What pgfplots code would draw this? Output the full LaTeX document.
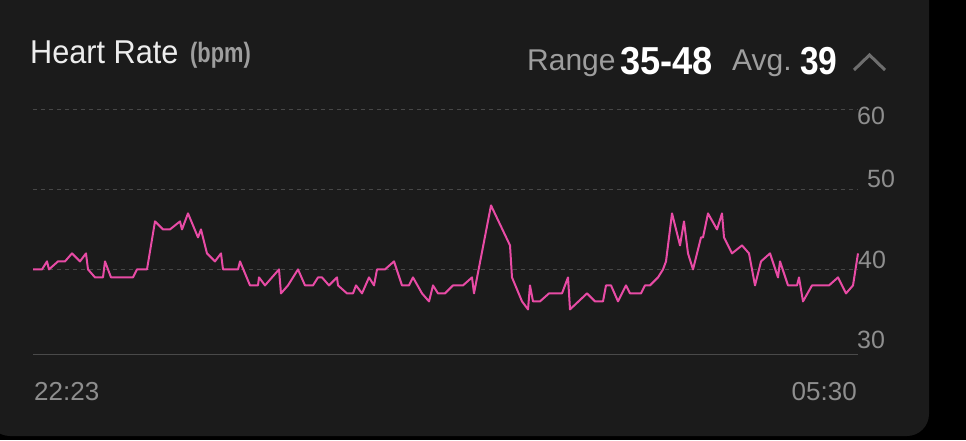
\documentclass[border=0pt]{standalone}
\usepackage{fontspec}
\setmainfont{Liberation Sans}
\usepackage{pgfplots}
\pgfplotsset{compat=1.18}

\definecolor{card}{HTML}{1B1B1B}
\definecolor{hr}{HTML}{E84BA5}
\definecolor{griddash}{HTML}{474747}
\definecolor{gridsolid}{HTML}{4A4A4A}
\definecolor{title}{HTML}{EDEDED}
\definecolor{lab}{HTML}{8E8E8E}
\definecolor{sub}{HTML}{9E9E9E}
\definecolor{chev}{HTML}{6E6E6E}

\begin{document}
\begin{tikzpicture}[x=1pt,y=1pt]
\useasboundingbox (0,0) rectangle (966,440);
\fill[black] (0,0) rectangle (966,440);
\fill[card, rounded corners=22pt] (-12,4) rectangle (929,470);

% header
\node[anchor=base west, inner sep=0, text=title] at (30,376)
  {\fontsize{33}{36}\selectfont\scalebox{0.93}[1]{Heart Rate}};
\node[anchor=base west, inner sep=0, text=sub] at (190,377)
  {\fontsize{28}{31}\selectfont\bfseries\scalebox{0.78}[1]{(bpm)}};
\node[anchor=base west, inner sep=0, text=sub] at (527,369)
  {\fontsize{30}{33}\selectfont Range};
\node[anchor=base west, inner sep=0, text=white] at (620,365)
  {\fontsize{39}{42}\selectfont\bfseries\scalebox{0.93}[1]{35-48}};
\node[anchor=base west, inner sep=0, text=sub] at (732,369)
  {\fontsize{30}{33}\selectfont Avg.};
\node[anchor=base west, inner sep=0, text=white] at (800,365)
  {\fontsize{39}{42}\selectfont\bfseries\scalebox{0.86}[1]{39}};
\draw[chev, line width=3pt] (854,370) -- (869.5,385) -- (885,370);

\begin{axis}[
  at={(33,107)}, anchor=south west,
  scale only axis, width=825pt, height=245pt,
  xmin=33, xmax=858, ymin=29.375, ymax=60,
  axis line style={draw=none},
  xtick=\empty,
  ytick={40,50,60}, yticklabels={},
  ymajorgrids,
  major grid style={draw=griddash, line width=1.2pt, dash pattern=on 4pt off 4pt},
  major tick length=0pt,
  clip=false,
]
\draw[gridsolid, line width=1.3pt] (rel axis cs:0,0) -- (rel axis cs:1,0);
\addplot[hr, line width=2pt, line join=round, mark=none] table {
x y
33 40
42 40
47 41
49 40
58 41
65 41
72 42
80 41
86 42
88 40
95 39
103 39
105 41
111 39
133 39
137 40
147 40
155 46
163 45
170 45
180 46
182 45
188 47
198 44
201 45
207 42
215 41
221 42
223 40
238 40
240 41
250 38
258 38
259 39
265 38
279 40
281 37
288 38
298 40
305 38
313 38
318 39
322 39
329 38
337 39
338 38
347 37
353 37
356 38
362 37
369 39
374 38
377 40
385 40
394 41
402 38
409 38
413 39
422 37
429 36
433 38
438 37
445 37
453 38
463 38
472 39
474 37
491 48
510 43
512 39
522 36
528 35
530 38
533 36
540 36
549 37
562 37
568 39
570 35
587 37
595 36
603 36
606 38
611 38
618 36
626 38
630 37
641 37
645 38
650 38
658 39
663 40
666 41
672 47
680 43
684 46
688 42
693 40
701 44
703 44
708 47
717 45
722 47
724 44
732 42
742 43
749 42
755 38
761 41
770 42
778 39
780 41
788 38
797 38
799 39
803 36
812 38
829 38
838 39
846 37
853 38
858 42
};
\end{axis}

% y labels
\node[anchor=base west, inner sep=0, text=lab] at (857,316)
  {\fontsize{25}{28}\selectfont 60};
\begin{scope}
\clip (860,240) rectangle (893,285);
\node[anchor=base west, inner sep=0, text=lab] at (867,253)
  {\fontsize{25}{28}\selectfont 50};
\end{scope}
\node[anchor=base west, inner sep=0, text=lab] at (858,172)
  {\fontsize{25}{28}\selectfont 40};
\node[anchor=base west, inner sep=0, text=lab] at (857,92)
  {\fontsize{25}{28}\selectfont 30};

% time labels
\node[anchor=base west, inner sep=0, text=lab] at (34,40)
  {\fontsize{26}{29}\selectfont 22:23};
\node[anchor=base east, inner sep=0, text=lab] at (857,40)
  {\fontsize{26}{29}\selectfont 05:30};
\end{tikzpicture}
\end{document}
